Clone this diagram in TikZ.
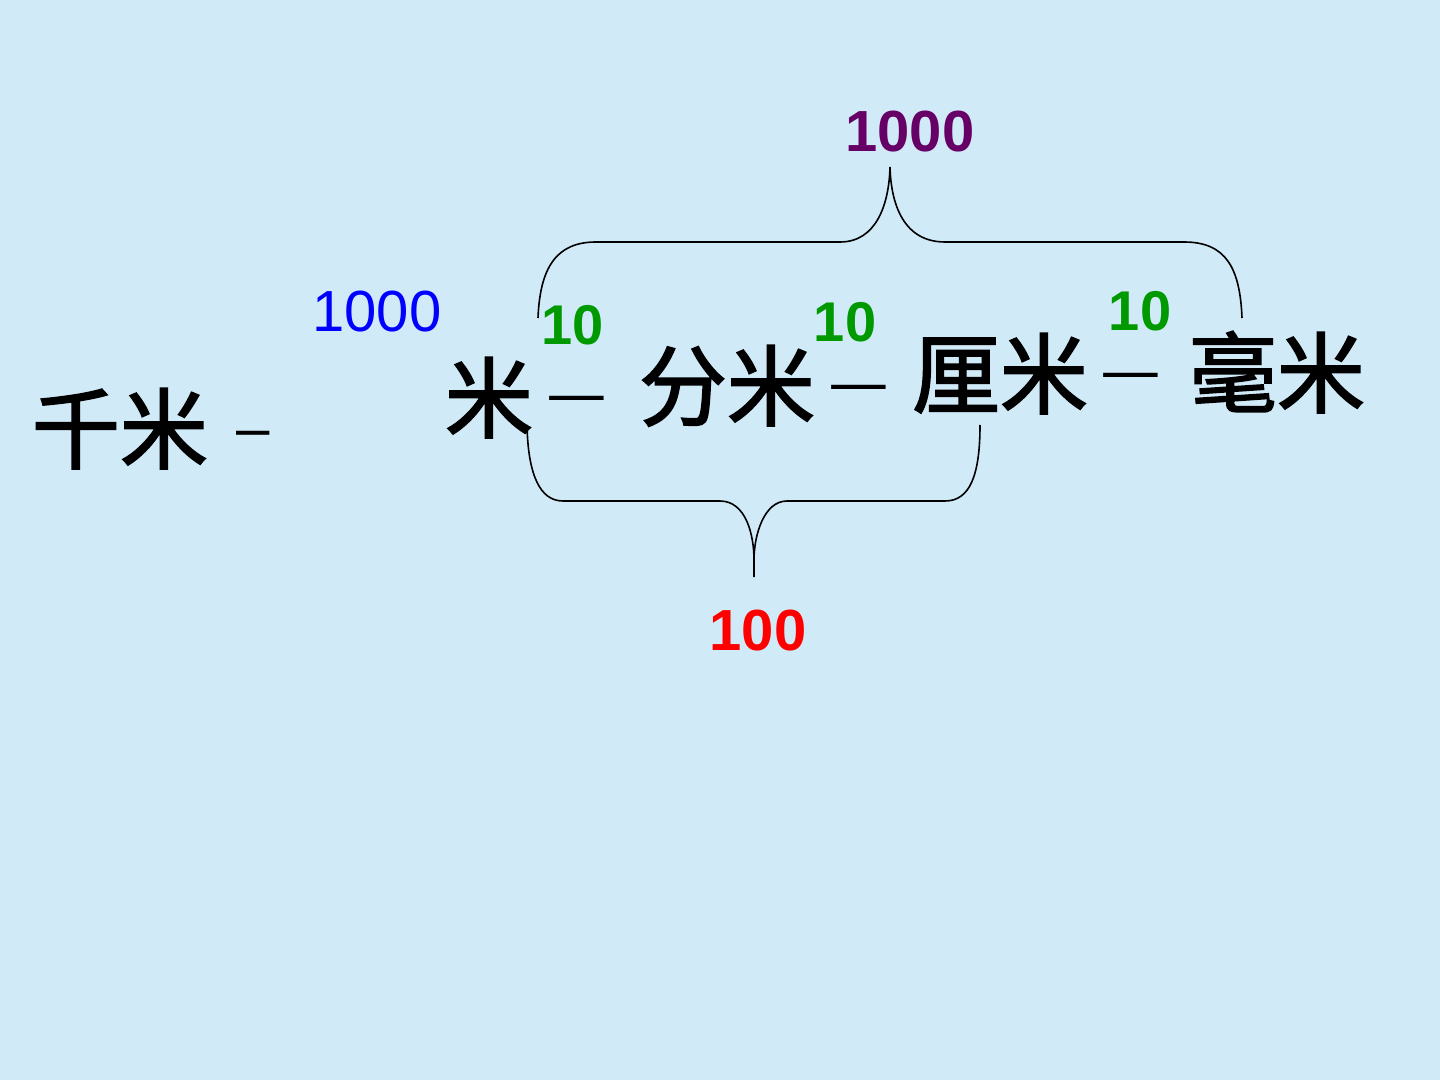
\documentclass[tikz,border=0pt]{standalone}
\usepackage{fontspec}
\setmainfont{Liberation Sans}
\newfontfamily\cjk{Noto Sans CJK SC}
\newfontfamily\cjkm[FakeBold=2]{Noto Sans CJK SC}
\definecolor{bgblue}{RGB}{208,234,247}
\definecolor{numgreen}{RGB}{0,153,0}
\definecolor{numpurple}{RGB}{102,0,102}
\definecolor{numblue}{RGB}{0,0,255}
\definecolor{numred}{RGB}{255,0,0}
\tikzset{
  unit/.style={anchor=base, inner sep=0pt, font=\cjkm\fontsize{44}{44}\selectfont},
  dashmark/.style={anchor=base, inner sep=0pt, text height=0.45em, text depth=0pt, font=\cjk\fontsize{34}{34}\selectfont},
  ten/.style={anchor=base, inner sep=0pt, text=numgreen, font=\bfseries\fontsize{28}{28}\selectfont},
  bignum/.style={anchor=base, inner sep=0pt, font=\fontsize{29}{29}\selectfont},
  brace/.style={draw=black, line width=0.8pt}
}
\begin{document}
\begin{tikzpicture}[x=0.5pt,y=-0.5pt]
\fill[bgblue] (0,0) rectangle (1440,1080);
\useasboundingbox (0,0) rectangle (1440,1080);
% units
\node[unit] (km) at (120,462) {千米};
\node[anchor=base, inner sep=0pt, font=\fontsize{30}{30}\selectfont] (kmdash) at (253,449) {–};
\node[unit] (m) at (489,431) {米};
\node[dashmark] (d1) at (577,418) {—};
\node[unit] (dm) at (727,419) {分米};
\node[dashmark] (d2) at (859,407) {—};
\node[unit] (cm) at (1000,407) {厘米};
\node[dashmark] (d3) at (1131,395) {—};
\node[unit] (mm) at (1277,406) {毫米};
% numbers
\node[bignum, text=numblue] (n1000b) at (377,332) {1000};
\node[ten] (t1) at (573,345) {10};
\node[ten] (t2) at (845,342) {10};
\node[ten] (t3) at (1140,331) {10};
\node[bignum, text=numpurple, font=\bfseries\fontsize{29}{29}\selectfont] (n1000p) at (910,152) {1000};
\node[bignum, text=numred, font=\bfseries\fontsize{29}{29}\selectfont] (n100) at (758,650) {100};
% top brace
\coordinate (tl) at (538,318);
\coordinate (tt) at (890,167);
\coordinate (tr) at (1242,318);
\draw[brace] (tl) .. controls (540,268) and (556,242) .. (596,242) -- (840,242)
  .. controls (876,242) and (889,205) .. (tt)
  .. controls (891,205) and (904,242) .. (945,242) -- (1184,242)
  .. controls (1226,242) and (1240,268) .. (tr);
% bottom brace
\coordinate (bl) at (527,425);
\coordinate (bt) at (754,577);
\coordinate (br) at (980,425);
\draw[brace] (bl) .. controls (528,475) and (540,501) .. (563,501) -- (720,501)
  .. controls (746,501) and (754,535) .. (754,560) -- (bt);
\draw[brace] (754,560) .. controls (754,535) and (764,501) .. (787,501) -- (945,501)
  .. controls (970,501) and (980,475) .. (br);
\end{tikzpicture}
\end{document}
